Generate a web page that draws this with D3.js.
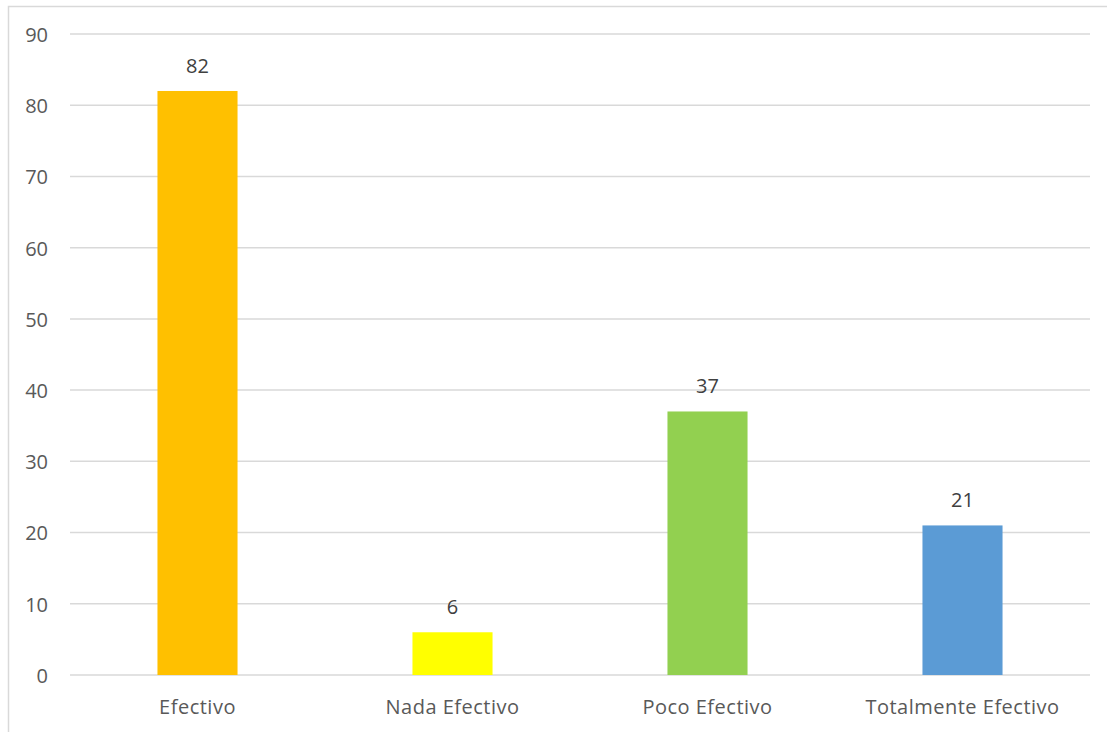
<!DOCTYPE html>
<html>
<head>
<meta charset="utf-8">
<script src="https://cdn.jsdelivr.net/npm/d3@7"></script>
<style>
  html, body { margin: 0; padding: 0; background: #fff; }
  svg { display: block; }
</style>
</head>
<body>
<svg id="chart" width="1107" height="732"></svg>
<script>
const categories = ["Efectivo", "Nada Efectivo", "Poco Efectivo", "Totalmente Efectivo"];
const values = [82, 6, 37, 21];
const colors = ["#FFC000", "#FFFF00", "#92D050", "#5B9BD5"];
const yTicks = [0, 10, 20, 30, 40, 50, 60, 70, 80, 90];

const svg = d3.select("#chart");
const font = "'Open Sans', 'DejaVu Sans', sans-serif";

// outer chart border
svg.append("rect")
  .attr("x", 8.5).attr("y", 6.5)
  .attr("width", 1120).attr("height", 760)
  .attr("fill", "none").attr("stroke", "#d9d9d9").attr("stroke-width", 1.5);

const x = d3.scaleBand().domain(categories).range([70, 1090])
  .paddingInner(0.686).paddingOuter(0.343);
const y = d3.scaleLinear().domain([0, 90]).range([675, 34]);

// gridlines
svg.append("g").selectAll("line").data(yTicks).join("line")
  .attr("x1", 70).attr("x2", 1090)
  .attr("y1", d => y(d)).attr("y2", d => y(d))
  .attr("stroke", "#d9d9d9").attr("stroke-width", 1.5);

// y axis labels
const yAxis = d3.axisLeft(y).tickValues(yTicks).tickSize(0).tickPadding(0);
const gy = svg.append("g").attr("transform", "translate(48,1)").call(yAxis);
gy.select(".domain").remove();
gy.selectAll("text").attr("font-family", font).attr("font-size", 20).attr("fill", "#595959");

// bars
svg.append("g").selectAll("rect").data(values).join("rect")
  .attr("x", (d, i) => x(categories[i]))
  .attr("width", x.bandwidth())
  .attr("y", d => y(d))
  .attr("height", d => y(0) - y(d))
  .attr("fill", (d, i) => colors[i]);

// data labels
svg.append("g").selectAll("text").data(values).join("text")
  .attr("x", (d, i) => x(categories[i]) + x.bandwidth() / 2)
  .attr("y", d => y(d) - 18)
  .attr("text-anchor", "middle")
  .attr("font-family", font).attr("font-size", 20).attr("fill", "#404040")
  .text(d => d);

// x axis labels
const xAxis = d3.axisBottom(x).tickSize(0).tickPadding(0);
const gx = svg.append("g").attr("transform", "translate(0,700)").call(xAxis);
gx.select(".domain").remove();
gx.selectAll("text").attr("font-family", font).attr("font-size", 20).attr("fill", "#595959")
  .attr("letter-spacing", "0.5px");
</script>
</body>
</html>
